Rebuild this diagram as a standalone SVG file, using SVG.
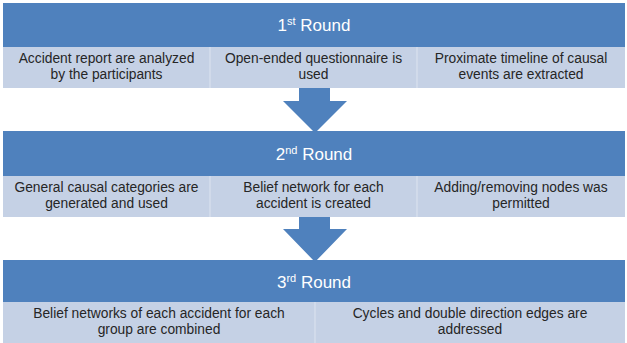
<svg xmlns="http://www.w3.org/2000/svg" width="627" height="343" viewBox="0 0 627 343">
<style>
.hdr{fill:#4F81BD}
.sub{fill:#C5D1E5}
.sep{stroke:#DDE4F0;stroke-width:1}
.ht{font-family:"Liberation Sans",Arial,sans-serif;font-size:17px;fill:#FFFFFF;text-anchor:middle}
.st{font-family:"Liberation Sans",Arial,sans-serif;font-size:13.8px;fill:#262626;text-anchor:middle}
.arrow{fill:#4F81BD}
</style>
<rect width="627" height="343" fill="#FFFFFF"/>
<g id="round1">
<rect class="hdr" x="3" y="3" width="622" height="44"/>
<text class="ht" x="314" y="31">1<tspan font-size="11" dy="-6">st</tspan><tspan dy="6"> Round</tspan></text>
</g>
<g id="r1a">
<rect class="sub" x="3" y="47" width="207" height="41"/>
<text class="st" x="106.5" y="63">Accident report are analyzed</text>
<text class="st" x="106.5" y="79">by the participants</text>
</g>
<g id="r1b">
<rect class="sub" x="210" y="47" width="207" height="41"/>
<text class="st" x="313.5" y="63">Open-ended questionnaire is</text>
<text class="st" x="313.5" y="79">used</text>
</g>
<g id="r1c">
<rect class="sub" x="417" y="47" width="208" height="41"/>
<text class="st" x="521" y="63">Proximate timeline of causal</text>
<text class="st" x="521" y="79">events are extracted</text>
</g>
<g id="round2">
<rect class="hdr" x="3" y="131" width="622" height="45"/>
<text class="ht" x="314" y="160">2<tspan font-size="11" dy="-6">nd</tspan><tspan dy="6"> Round</tspan></text>
</g>
<g id="r2a">
<rect class="sub" x="3" y="176" width="207" height="41"/>
<text class="st" x="106.5" y="192">General causal categories are</text>
<text class="st" x="106.5" y="208">generated and used</text>
</g>
<g id="r2b">
<rect class="sub" x="210" y="176" width="207" height="41"/>
<text class="st" x="313.5" y="192">Belief network for each</text>
<text class="st" x="313.5" y="208">accident is created</text>
</g>
<g id="r2c">
<rect class="sub" x="417" y="176" width="208" height="41"/>
<text class="st" x="521" y="192">Adding/removing nodes was</text>
<text class="st" x="521" y="208">permitted</text>
</g>
<g id="round3">
<rect class="hdr" x="3" y="260" width="622" height="42"/>
<text class="ht" x="314" y="288">3<tspan font-size="11" dy="-6">rd</tspan><tspan dy="6"> Round</tspan></text>
</g>
<g id="r3a">
<rect class="sub" x="3" y="302" width="312" height="41"/>
<text class="st" x="159" y="318">Belief networks of each accident for each</text>
<text class="st" x="159" y="334">group are combined</text>
</g>
<g id="r3b">
<rect class="sub" x="315" y="302" width="310" height="41"/>
<text class="st" x="470" y="318">Cycles and double direction edges are</text>
<text class="st" x="470" y="334">addressed</text>
</g>
<g id="separators">
<line class="sep" x1="210" y1="47" x2="210" y2="88"/>
<line class="sep" x1="417" y1="47" x2="417" y2="88"/>
<line class="sep" x1="210" y1="176" x2="210" y2="217"/>
<line class="sep" x1="417" y1="176" x2="417" y2="217"/>
<line class="sep" x1="315" y1="302" x2="315" y2="343"/>
</g>
<g id="connectors">
<polygon class="arrow" points="299,88 330,88 330,101 347,101 315,133 283,101 299,101"/>
<polygon class="arrow" points="299,217 330,217 330,229 347,229 315,262 283,229 299,229"/>
</g>
</svg>
